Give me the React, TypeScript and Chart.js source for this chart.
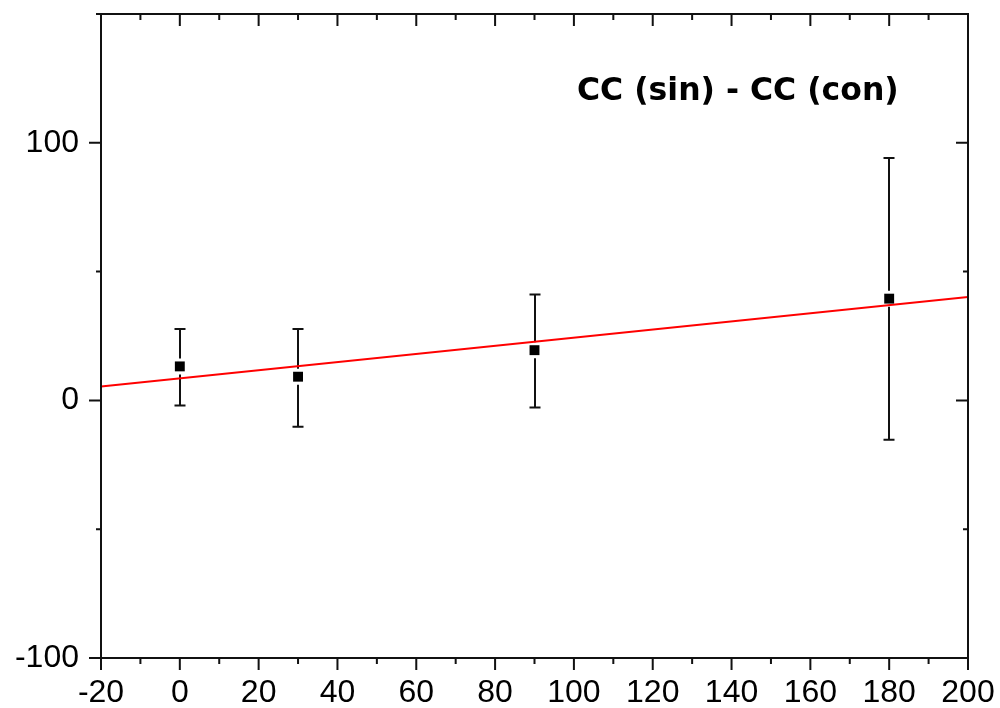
import React, { useEffect, useRef } from "react";
import { Chart, registerables } from "chart.js";

Chart.register(...registerables);

// ---- data ----
const xAngles = [0, 30, 90, 180];
const yMeans = [13.2, 9.2, 19.5, 39.5];
const yUpper = [27.7, 27.7, 41.1, 94.1];
const yLower = [-2.0, -10.2, -2.8, -15.3];
const fitX = [-20, 200];
const fitY = [5.4, 40.1];
const xRange = [-20, 200];
const yRange = [-100, 150];
const yLabelValues = [-100, 0, 100];
const titleText = "CC (sin) - CC (con)";

const AXIS_FONT = "'Liberation Sans', Arial, sans-serif";

const framePlugin = {
  id: "originFrame",
  beforeDatasetsDraw(chart: any) {
    const { ctx } = chart;
    const xs = chart.scales.x;
    const ys = chart.scales.y;
    ctx.save();
    ctx.strokeStyle = "#111";
    ctx.lineWidth = 2;
    const half = 5;
    const gap = 3;
    const capHalf = 5.5;
    xAngles.forEach((xv, i) => {
      const px = Math.round(xs.getPixelForValue(xv));
      const pm = ys.getPixelForValue(yMeans[i]);
      const pu = ys.getPixelForValue(yUpper[i]);
      const pl = ys.getPixelForValue(yLower[i]);
      ctx.beginPath();
      ctx.moveTo(px, pu);
      ctx.lineTo(px, pm - half - gap);
      ctx.moveTo(px, pm + half + gap);
      ctx.lineTo(px, pl);
      ctx.moveTo(px - capHalf, pu);
      ctx.lineTo(px + capHalf, pu);
      ctx.moveTo(px - capHalf, pl);
      ctx.lineTo(px + capHalf, pl);
      ctx.stroke();
    });
    ctx.restore();
  },
  afterDraw(chart: any) {
    const { ctx, chartArea } = chart;
    const { left, right, top, bottom } = chartArea;
    const xs = chart.scales.x;
    const ys = chart.scales.y;
    ctx.save();
    ctx.strokeStyle = "#111";
    ctx.lineWidth = 2;
    ctx.strokeRect(left, top, right - left, bottom - top);
    ctx.beginPath();
    for (let v = xRange[0]; v <= xRange[1]; v += 10) {
      const major = v % 20 === 0;
      const px = xs.getPixelForValue(v);
      const len = major ? 12 : 6;
      ctx.moveTo(px, bottom);
      ctx.lineTo(px, bottom + len);
      ctx.moveTo(px, top);
      ctx.lineTo(px, top + len);
    }
    for (let v = yRange[0]; v <= yRange[1]; v += 50) {
      const major = v % 100 === 0;
      const py = ys.getPixelForValue(v);
      const len = major ? 12 : 5;
      ctx.moveTo(left, py);
      ctx.lineTo(left - len, py);
      ctx.moveTo(right, py);
      ctx.lineTo(right - len, py);
    }
    ctx.stroke();

    ctx.fillStyle = "#000";
    ctx.font = "bold 31.5px 'DejaVu Sans', sans-serif";
    ctx.textAlign = "left";
    ctx.textBaseline = "alphabetic";
    ctx.fillText(titleText, 577, 100);
    ctx.restore();
  },
};

export default function App() {
  const ref = useRef<HTMLCanvasElement | null>(null);
  useEffect(() => {
    if (!ref.current) return;
    const chart = new Chart(ref.current, {
      type: "scatter",
      data: {
        datasets: [
          {
            type: "scatter",
            label: "data",
            data: xAngles.map((x, i) => ({ x, y: yMeans[i] })),
            pointStyle: "rect",
            pointRadius: 7,
            pointHoverRadius: 7,
            backgroundColor: "#000",
            borderWidth: 0,
          },
          {
            type: "line",
            label: "fit",
            data: fitX.map((x, i) => ({ x, y: fitY[i] })),
            borderColor: "#ff0000",
            borderWidth: 2,
            pointRadius: 0,
            showLine: true,
            fill: false,
          },
        ],
      } as any,
      options: {
        animation: false,
        responsive: false,
        devicePixelRatio: 1,
        events: [],
        layout: { padding: { top: 14, right: 32, left: 0, bottom: 0 } },
        plugins: {
          legend: { display: false },
          tooltip: { enabled: false },
          title: { display: false },
        },
        scales: {
          x: {
            type: "linear",
            min: xRange[0],
            max: xRange[1],
            grid: { display: false, drawTicks: false },
            border: { display: false },
            ticks: {
              stepSize: 20,
              autoSkip: false,
              maxRotation: 0,
              color: "#000",
              padding: 16,
              font: { family: AXIS_FONT, size: 32 },
              callback: (v: any) => String(v),
            },
            afterFit: (s: any) => {
              s.height = 50;
              s.paddingLeft = 0;
              s.paddingRight = 0;
            },
          },
          y: {
            type: "linear",
            min: yRange[0],
            max: yRange[1],
            grid: { display: false, drawTicks: false },
            border: { display: false },
            ticks: {
              stepSize: 50,
              autoSkip: false,
              color: "#000",
              padding: 22,
              font: { family: AXIS_FONT, size: 32 },
              callback: (v: any) => (yLabelValues.includes(Number(v)) ? String(v) : ""),
            },
            afterFit: (s: any) => {
              s.width = 101;
              s.paddingTop = 0;
              s.paddingBottom = 0;
            },
          },
        },
      } as any,
      plugins: [framePlugin],
    });
    return () => chart.destroy();
  }, []);
  return (
    <div style={{ position: "absolute", left: 0, top: 0, width: 1000, height: 708, background: "#fff" }}>
      <canvas ref={ref} width={1000} height={708} />
    </div>
  );
}
